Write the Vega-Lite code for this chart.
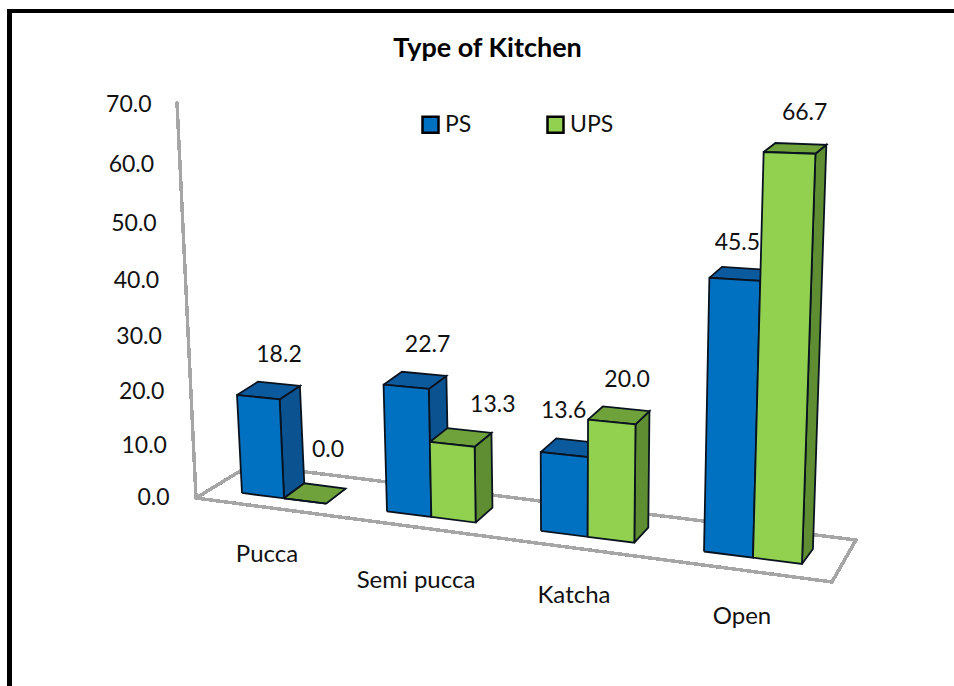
{
"$schema":"https://vega.github.io/schema/vega-lite/v6.json",
"width":954,"height":686,"padding":0,"autosize":{"type":"none"},"background":"white",
"view":{"stroke":null},
"title":{"text":"Type of Kitchen","font":"Lato","fontSize":27,"fontWeight":"bold","color":"#000000","anchor":"middle","dx":10.5,"offset":-63},
"config":{"font":"Lato"},
"data":{"values":[
{"category":"Pucca","series":"PS","value":18.2},
{"category":"Pucca","series":"UPS","value":0.0},
{"category":"Semi pucca","series":"PS","value":22.7},
{"category":"Semi pucca","series":"UPS","value":13.3},
{"category":"Katcha","series":"PS","value":13.6},
{"category":"Katcha","series":"UPS","value":20.0},
{"category":"Open","series":"PS","value":45.5},
{"category":"Open","series":"UPS","value":66.7}
]},
"transform":[
{"calculate":"indexof(['Pucca','Semi pucca','Katcha','Open'],datum.category)","as":"i"},
{"calculate":"datum.series==='PS'?0:1","as":"s"},
{"calculate":"datum.category+'|'+datum.series","as":"key"},
{"calculate":"42+2.33*datum.i","as":"w"},
{"calculate":"242+140.5*datum.i+4.5*datum.i*datum.i+datum.w*datum.s","as":"xl"},
{"calculate":"datum.xl+datum.w","as":"xr"},
{"calculate":"['side','top','front']","as":"face"},
{"flatten":["face"]},
{"calculate":"[0,1,2,3,4]","as":"corner"},
{"flatten":["corner"]},
{"calculate":"datum.corner===4?0:datum.corner","as":"c"},
{"calculate":"datum.face==='side'?datum.xr:((datum.c===0||datum.c===3)?datum.xl:datum.xr)","as":"bx"},
{"calculate":"datum.face==='front'?0:(datum.face==='top'?((datum.c===2||datum.c===3)?1:0):((datum.c===1||datum.c===2)?1:0))","as":"d"},
{"calculate":"datum.face==='top'?datum.value:((datum.c===2||datum.c===3)?datum.value:0)","as":"h"},
{"calculate":"datum.bx+(datum.bx-565)*0.00085*datum.h+datum.d*(21-(datum.bx-242)*0.018)","as":"px"},
{"calculate":"493+0.1267*(datum.bx-242)-(5.38+0.001375*(datum.bx-242))*datum.h+datum.d*(-15+0.09*datum.h)","as":"py"},
{"calculate":"(498-datum.py)/5.6143","as":"Y"}
],
"layer":[
{"mark":{"type":"rule","stroke":"#000000","strokeWidth":4},"encoding":{"x":{"datum":7,"type":"quantitative","scale":{"domain":[0,954],"nice":false,"zero":false},"axis":null},"x2":{"datum":954},"y":{"datum":86.74,"type":"quantitative","scale":{"domain":[-33.49,88.7],"nice":false,"zero":false},"axis":{"title":null,"values":[0,10,20,30,40,50,60,70],"format":".1f","domain":false,"ticks":false,"grid":false,"offset":-169,"labelPadding":0,"labelFont":"Lato","labelFontSize":23,"labelColor":"#111111","labelFontWeight":"normal","labelOverlap":false,"encoding":{"labels":{"dx":{"value":{"expr":"-0.257*datum.value"}},"dy":{"value":{"expr":"0.006*datum.value*(70-datum.value)"}}}}}}}},
{"mark":{"type":"rule","stroke":"#000000","strokeWidth":5},"encoding":{"x":{"datum":9.5,"type":"quantitative"},"y":{"datum":87.1,"type":"quantitative"},"y2":{"datum":-33.49}}},
{"mark":{"type":"rule","stroke":"#a6a6a6","strokeWidth":2.5,"strokeCap":"round"},"encoding":{"x":{"datum":177,"type":"quantitative"},"x2":{"datum":196},"y":{"datum":70.36,"type":"quantitative"},"y2":{"datum":0}}},
{"mark":{"type":"rule","stroke":"#a6a6a6","strokeWidth":2.5,"strokeCap":"round"},"encoding":{"x":{"datum":196,"type":"quantitative"},"x2":{"datum":832},"y":{"datum":0,"type":"quantitative"},"y2":{"datum":-14.96}}},
{"mark":{"type":"rule","stroke":"#a6a6a6","strokeWidth":2.5,"strokeCap":"round"},"encoding":{"x":{"datum":196,"type":"quantitative"},"x2":{"datum":250},"y":{"datum":0,"type":"quantitative"},"y2":{"datum":5.88}}},
{"mark":{"type":"rule","stroke":"#a6a6a6","strokeWidth":2.5,"strokeCap":"round"},"encoding":{"x":{"datum":250,"type":"quantitative"},"x2":{"datum":856},"y":{"datum":5.88,"type":"quantitative"},"y2":{"datum":-7.48}}},
{"mark":{"type":"rule","stroke":"#a6a6a6","strokeWidth":2.5,"strokeCap":"round"},"encoding":{"x":{"datum":856,"type":"quantitative"},"x2":{"datum":832},"y":{"datum":-7.48,"type":"quantitative"},"y2":{"datum":-14.96}}},
{"transform":[{"filter":"datum.face==='side'"}],"mark":{"type":"line","stroke":"#08131f","strokeWidth":1.8,"strokeJoin":"miter"},
"encoding":{"x":{"field":"px","type":"quantitative"},"y":{"field":"Y","type":"quantitative"},"detail":{"field":"key"},"order":{"field":"corner"},"fill":{"condition":{"test":"datum.series==='PS'","value":"#0a5290"},"value":"#5f8d31"}}},
{"transform":[{"filter":"datum.face==='top'"}],"mark":{"type":"line","stroke":"#08131f","strokeWidth":1.8,"strokeJoin":"miter"},
"encoding":{"x":{"field":"px","type":"quantitative"},"y":{"field":"Y","type":"quantitative"},"detail":{"field":"key"},"order":{"field":"corner"},"fill":{"condition":{"test":"datum.series==='PS'","value":"#0b5a9e"},"value":"#6fa23a"}}},
{"transform":[{"filter":"datum.face==='front'"}],"mark":{"type":"line","stroke":"#08131f","strokeWidth":1.8,"strokeJoin":"miter"},
"encoding":{"x":{"field":"px","type":"quantitative"},"y":{"field":"Y","type":"quantitative"},"detail":{"field":"key"},"order":{"field":"corner"},
"fill":{"field":"series","type":"nominal","scale":{"domain":["PS","UPS"],"range":["#0070c0","#92d050"]},"legend":{"title":null,"orient":"none","legendX":419,"legendY":113,"direction":"horizontal","columns":2,"columnPadding":70,"symbolType":"square","symbolSize":256,"symbolStrokeColor":"#000000","symbolStrokeWidth":2.5,"symbolOpacity":1,"labelFont":"Lato","labelFontSize":23,"labelColor":"#111111","labelOffset":3}}}},
{"transform":[{"filter":"datum.face==='top'&&datum.corner===0"},
{"calculate":"{'Pucca|PS':[42,-40],'Pucca|UPS':[44,-48],'Semi pucca|PS':[44,-40],'Semi pucca|UPS':[63,-37],'Katcha|PS':[23,-41],'Katcha|UPS':[39,-40],'Open|PS':[28,-35],'Open|UPS':[41,-39]}[datum.key]","as":"off"},
{"calculate":"datum.px+datum.off[0]","as":"lx"},
{"calculate":"(498-(datum.py+datum.off[1]))/5.6143","as":"ly"}],
"mark":{"type":"text","font":"Lato","fontSize":23,"color":"#111111","align":"center","baseline":"middle"},
"encoding":{"x":{"field":"lx","type":"quantitative"},"y":{"field":"ly","type":"quantitative"},"text":{"field":"value","type":"quantitative","format":".1f"}}},
{"transform":[{"filter":"datum.face==='top'&&datum.corner===0&&datum.series==='PS'"},
{"calculate":"{'Pucca':[267,555],'Semi pucca':[416,581],'Katcha':[574,596],'Open':[742,617]}[datum.category]","as":"pos"},
{"calculate":"datum.pos[0]","as":"lx"},
{"calculate":"(498-datum.pos[1])/5.6143","as":"ly"}],
"mark":{"type":"text","font":"Lato","fontSize":24,"color":"#111111","align":"center","baseline":"middle"},
"encoding":{"x":{"field":"lx","type":"quantitative"},"y":{"field":"ly","type":"quantitative"},"text":{"field":"category"}}}
]
}
